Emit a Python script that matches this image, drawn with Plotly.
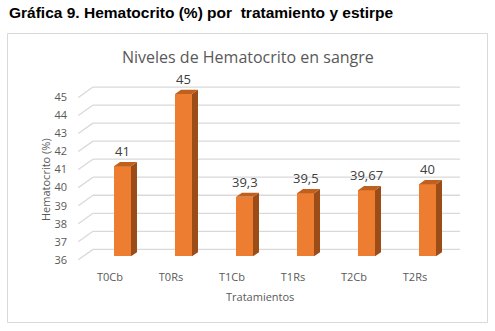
import plotly.graph_objects as go

categories = ["T0Cb", "T0Rs", "T1Cb", "T1Rs", "T2Cb", "T2Rs"]
values = [41, 45, 39.3, 39.5, 39.67, 40]
y_ticks = [36, 37, 38, 39, 40, 41, 42, 43, 44, 45]

chart_title = "Niveles de Hematocrito en sangre"
page_title = "Gráfica 9. Hematocrito (%) por\u00a0 tratamiento y estirpe"
x_title = "Tratamientos"
y_title = "Hematocrito (%)"

W, H = 495, 331
L, R, T, B = 76, 33, 76, 62
pw, ph = W - L - R, H - T - B
x_px = 61.0
xmin = -(122.5 - L) / x_px
xmax = xmin + pw / x_px
ymin, ymax = 35.3, 46.0
y_px = ph / (ymax - ymin)
base = 36

bar_w = 17 / x_px
dx = 6 / x_px
dy = 4.2 / y_px
back_off = 7 / y_px
front_off = -3.4 / y_px

FRONT = "#ED7D31"
SIDE = "#9C4C17"
TOP = "#C0601F"
GRID = "#D9D9D9"
FONT = "Open Sans"

xs = list(range(len(categories)))

fig = go.Figure()

sx, sy, tx, ty = [], [], [], []
for i, v in zip(xs, values):
    xl, xr = i - bar_w / 2, i + bar_w / 2
    sx += [xr, xr + dx, xr + dx, xr, xr, None]
    sy += [base, base + dy, v + dy, v, base, None]
    tx += [xl, xl + dx, xr + dx, xr, xl, None]
    ty += [v, v + dy, v + dy, v, v, None]

fig.add_trace(go.Scatter(x=sx, y=sy, fill="toself", fillcolor=SIDE, mode="lines",
                         line=dict(width=0, color=SIDE), hoverinfo="skip", showlegend=False))
fig.add_trace(go.Scatter(x=tx, y=ty, fill="toself", fillcolor=TOP, mode="lines",
                         line=dict(width=0, color=TOP), hoverinfo="skip", showlegend=False))
fig.add_trace(go.Bar(x=xs, y=[v - base for v in values], base=base, width=bar_w,
                     marker=dict(color=FRONT, line=dict(width=0)), showlegend=False))

for i, v in zip(xs, values):
    fig.add_annotation(x=i, y=v, text=(f"{v:g}").replace(".", ","), showarrow=False,
                       yshift=15, yanchor="middle",
                       font=dict(family=FONT, size=13, color="#404040"))

gx0 = (93 - 122.5) / x_px
gx1 = (460 - 122.5) / x_px
fx = (78.3 - 122.5) / x_px
shapes = []
for v in y_ticks:
    shapes.append(dict(type="line", xref="x", yref="y", x0=gx0, x1=gx1,
                       y0=v + back_off, y1=v + back_off, layer="below",
                       line=dict(color=GRID, width=1.3)))
    shapes.append(dict(type="line", xref="x", yref="y", x0=fx, x1=gx0,
                       y0=v + front_off, y1=v + back_off, layer="below",
                       line=dict(color=GRID, width=1.3)))


def px_x(p):
    return (p - L) / pw


def px_y(p):
    return (H - B - p) / ph


shapes.append(dict(type="rect", xref="paper", yref="paper",
                   x0=px_x(7.5), x1=px_x(487.5), y0=px_y(322.5), y1=px_y(33.5),
                   line=dict(color=GRID, width=1), layer="below"))

fig.update_layout(shapes=shapes)

fig.add_annotation(xref="paper", yref="paper", x=px_x(248), y=px_y(57),
                   text=chart_title, showarrow=False, xanchor="center", yanchor="middle",
                   font=dict(family=FONT, size=16, color="#595959"))
fig.add_annotation(xref="paper", yref="paper", x=px_x(7), y=px_y(13),
                   text=f"<b>{page_title}</b>", showarrow=False, xanchor="left", yanchor="middle",
                   font=dict(family="Liberation Sans", size=15.5, color="#000000"))
fig.add_annotation(xref="paper", yref="paper", x=px_x(260), y=px_y(296),
                   text=x_title, showarrow=False, xanchor="center", yanchor="middle",
                   font=dict(family=FONT, size=11, color="#595959"))
fig.add_annotation(xref="paper", yref="paper", x=px_x(45), y=px_y(180),
                   text=y_title, showarrow=False, textangle=-90, xanchor="center", yanchor="middle",
                   font=dict(family=FONT, size=11, color="#595959"))

fig.update_layout(
    width=W, height=H,
    margin=dict(l=L, r=R, t=T, b=B),
    paper_bgcolor="white", plot_bgcolor="white",
    xaxis=dict(range=[xmin, xmax], showgrid=False, zeroline=False, showline=False,
               tickvals=[i - 12.5 / x_px for i in xs], ticktext=categories, ticks="",
               tickfont=dict(family=FONT, size=11, color="#595959"), fixedrange=True),
    yaxis=dict(range=[ymin, ymax], showgrid=False, zeroline=False, showline=False,
               tickvals=[v + front_off for v in y_ticks], ticktext=[str(v) for v in y_ticks],
               ticks="", ticklabelstandoff=8,
               tickfont=dict(family=FONT, size=11, color="#595959"), fixedrange=True),
    bargap=0,
)

fig.write_html("out.html")
